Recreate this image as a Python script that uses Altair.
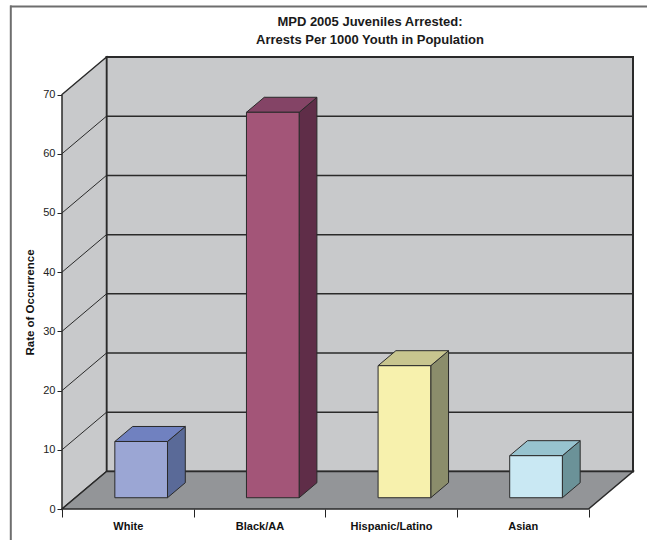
import altair as alt
import pandas as pd

# --- data -------------------------------------------------------------
categories = ["White", "Black/AA", "Hispanic/Latino", "Asian"]
rates = [9.5, 65.1, 22.3, 7.1]  # arrests per 1000 youth
front_colors = ["#9ba6d4", "#a35578", "#f7f1ad", "#c9e8f3"]
top_colors = ["#7081c0", "#844466", "#c8c58f", "#97c3cf"]
side_colors = ["#5a6a98", "#5f2d48", "#8b8d6b", "#6b9298"]
rate_ticks = [0, 10, 20, 30, 40, 50, 60, 70]

title_lines = ["MPD 2005 Juveniles Arrested:", "Arrests Per 1000 Youth in Population"]
y_title = "Rate of Occurrence"

# --- oblique "3-D" geometry (in data units) ---------------------------
DEPTH_X = 0.338      # floor depth, in category slots
DEPTH_Y = 6.34       # floor depth, in rate units
BAR_W = 0.4          # bar width, in category slots
NEAR, FAR = 0.3, 0.7  # bar depth span, as fraction of the floor depth
TOP = rate_ticks[-1]
n = len(categories)

PLOT_W, PLOT_H = 571, 452
FONT = "Liberation Sans"
NARROW = "Liberation Sans Narrow, Arial Narrow, Liberation Sans"
EDGE = "#2a2a2a"

x_scale = alt.Scale(domain=[0, n + DEPTH_X], nice=False, zero=False)
y_scale = alt.Scale(domain=[0, TOP + DEPTH_Y], nice=False, zero=False)

label_expr = " : ".join(
    f"datum.value == {i + 0.5} ? '{c}'" for i, c in enumerate(categories)
) + " : ''"

x_axis = alt.Axis(
    values=[k * 0.5 for k in range(2 * n + 1)],
    labelExpr=label_expr,
    title="",
    domain=False,
    grid=False,
    tickSize=8,
    tickWidth=1,
    tickColor="#222222",
    tickOpacity={"condition": {"test": "datum.value % 1 === 0", "value": 1}, "value": 0},
    labelFont=FONT,
    labelFontSize=11,
    labelFontWeight="bold",
    labelColor="#111111",
    labelPadding=3,
    labelOverlap=False,
    labelFlush=False,
)
y_axis = alt.Axis(
    values=rate_ticks,
    title=y_title,
    domain=False,
    grid=False,
    tickSize=5,
    tickWidth=1,
    tickColor="#222222",
    labelFont=FONT,
    labelFontSize=11,
    labelColor="#222222",
    labelPadding=2,
    titleFont=FONT,
    titleFontSize=11.5,
    titleFontWeight="bold",
    titleColor="#111111",
    titleAngle=270,
    titleAlign="center",
    titleX=-27,
    titleY=245,
)


def X(field="x"):
    return alt.X(f"{field}:Q", scale=x_scale, axis=x_axis, stack=False)


def Y(field="y"):
    return alt.Y(f"{field}:Q", scale=y_scale, axis=y_axis, stack=False)


fill = alt.Color("fill:N", scale=None)

# --- walls and floor --------------------------------------------------
floor = pd.DataFrame([
    {"face": "floor", "y": 0, "x": 0, "x2": n, "fill": "#939598"},
    {"face": "floor", "y": DEPTH_Y, "x": DEPTH_X, "x2": n + DEPTH_X, "fill": "#939598"},
])
left_wall = pd.DataFrame([
    {"face": "left", "x": 0, "y": 0, "y2": TOP, "fill": "#c8c9cb"},
    {"face": "left", "x": DEPTH_X, "y": DEPTH_Y, "y2": TOP + DEPTH_Y, "fill": "#c8c9cb"},
])
back_wall = pd.DataFrame([
    {"x": DEPTH_X, "x2": n + DEPTH_X, "y": DEPTH_Y, "y2": TOP + DEPTH_Y, "fill": "#c8c9cb"}
])
inner = rate_ticks[1:-1]
back_grid = pd.DataFrame({
    "x": [DEPTH_X] * len(inner),
    "x2": [n + DEPTH_X] * len(inner),
    "y": [v + DEPTH_Y for v in inner],
})
side_grid = pd.DataFrame({
    "x": [0] * len(inner),
    "x2": [DEPTH_X] * len(inner),
    "y": inner,
    "y2": [v + DEPTH_Y for v in inner],
})

# --- bars -------------------------------------------------------------
fronts, sides, tops = [], [], []
bx = (FAR - NEAR) * DEPTH_X
by = (FAR - NEAR) * DEPTH_Y
for i, (cat, v) in enumerate(zip(categories, rates)):
    xl = i + (1 - BAR_W) / 2 + NEAR * DEPTH_X
    xr = xl + BAR_W
    y0 = NEAR * DEPTH_Y
    fronts.append({"face": cat, "x": xl, "x2": xr, "y": y0, "y2": y0 + v,
                   "fill": front_colors[i]})
    sides += [
        {"face": cat, "x": xr, "y": y0, "y2": y0 + v, "fill": side_colors[i]},
        {"face": cat, "x": xr + bx, "y": y0 + by, "y2": y0 + v + by, "fill": side_colors[i]},
    ]
    tops += [
        {"face": cat, "y": y0 + v, "x": xl, "x2": xr, "fill": top_colors[i]},
        {"face": cat, "y": y0 + v + by, "x": xl + bx, "x2": xr + bx, "fill": top_colors[i]},
    ]
fronts, sides, tops = pd.DataFrame(fronts), pd.DataFrame(sides), pd.DataFrame(tops)

# --- layers -----------------------------------------------------------
back_layer = alt.Chart(back_wall).mark_rect(stroke=EDGE, strokeWidth=2).encode(
    x=X(), x2="x2:Q", y=Y(), y2="y2:Q", color=fill)
left_layer = alt.Chart(left_wall).mark_area(
    orient="vertical", stroke=EDGE, strokeWidth=1.5, opacity=1).encode(
    x=X(), y=Y(), y2="y2:Q", detail="face:N", color=fill)
floor_layer = alt.Chart(floor).mark_area(
    orient="horizontal", stroke=EDGE, strokeWidth=1.5, opacity=1).encode(
    y=Y(), x=X(), x2="x2:Q", detail="face:N", color=fill)
back_grid_layer = alt.Chart(back_grid).mark_rule(color=EDGE, strokeWidth=1.5).encode(
    x=X(), x2="x2:Q", y=Y())
side_grid_layer = alt.Chart(side_grid).mark_rule(color=EDGE, strokeWidth=1).encode(
    x=X(), x2="x2:Q", y=Y(), y2="y2:Q")
side_layer = alt.Chart(sides).mark_area(
    orient="vertical", stroke=EDGE, strokeWidth=1, opacity=1).encode(
    x=X(), y=Y(), y2="y2:Q", detail="face:N", color=fill)
top_layer = alt.Chart(tops).mark_area(
    orient="horizontal", stroke=EDGE, strokeWidth=1, opacity=1).encode(
    y=Y(), x=X(), x2="x2:Q", detail="face:N", color=fill)
front_layer = alt.Chart(fronts).mark_rect(stroke=EDGE, strokeWidth=1).encode(
    x=X(), x2="x2:Q", y=Y(), y2="y2:Q", color=fill)

# outer frame of the figure
frame_src = pd.DataFrame({"k": [0]})
frame_top = alt.Chart(frame_src).mark_rule(color="#6e6e6e", strokeWidth=2).encode(
    x=alt.value(-52), x2=alt.value(590), y=alt.value(-50.5))
frame_left = alt.Chart(frame_src).mark_rule(color="#6e6e6e", strokeWidth=2).encode(
    x=alt.value(-51.2), y=alt.value(-51.5), y2=alt.value(490))

chart = alt.layer(
    back_layer, left_layer, floor_layer, back_grid_layer, side_grid_layer,
    side_layer, top_layer, front_layer, frame_top, frame_left,
).properties(
    width=PLOT_W,
    height=PLOT_H,
    title=alt.TitleParams(
        title_lines, font=NARROW, fontSize=13, fontWeight="bold", color="#1a1a1a",
        anchor="middle", dx=22.5, dy=42, lineHeight=17.5, offset=0,
    ),
    padding={"left": 62, "top": 57, "right": 14, "bottom": 31},
    autosize=alt.AutoSizeParams(type="none"),
    background="white",
).configure_view(strokeWidth=0)

chart.save("out.html", embed_options={"renderer": "svg", "actions": False})
